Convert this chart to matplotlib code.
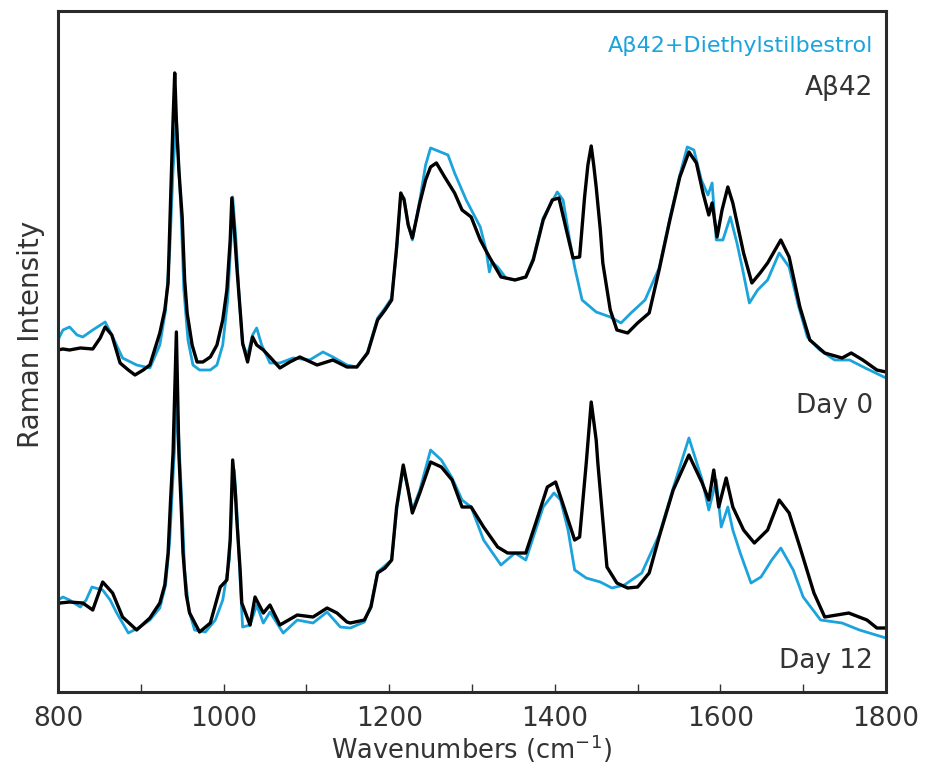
import numpy as np
import matplotlib.pyplot as plt

plt.rcParams['font.family'] = ['DejaVu Sans']
plt.rcParams['mathtext.fontset'] = 'dejavusans'

# Day 0, Abeta42 (black)
wn_d0_k = [800, 806, 814, 827, 842, 851, 857, 865, 875, 885, 893, 903, 911, 923, 929, 933, 936, 939,
           941, 943, 946, 950, 953, 956, 962, 968, 975, 984, 992, 999, 1004, 1008, 1010, 1013, 1016,
           1020, 1023, 1029, 1035, 1040, 1048, 1056, 1068, 1080, 1092, 1113, 1132, 1149, 1161, 1174,
           1186, 1195, 1203, 1209, 1214, 1218, 1223, 1228, 1237, 1244, 1250, 1257, 1267, 1279, 1288,
           1299, 1310, 1321, 1335, 1352, 1365, 1374, 1386, 1397, 1405, 1414, 1422, 1430, 1436, 1440,
           1444, 1447, 1450, 1455, 1458, 1467, 1475, 1488, 1500, 1514, 1526, 1539, 1551, 1562, 1571,
           1579, 1586, 1590, 1596, 1602, 1609, 1615, 1628, 1638, 1648, 1657, 1666, 1673, 1683, 1696,
           1708, 1726, 1747, 1758, 1772, 1789, 1800]
int_d0_k = [342, 343, 342, 344, 343, 354, 365, 357, 329, 322, 317, 322, 327, 359, 382, 409, 492, 572,
            619, 572, 522, 475, 412, 379, 347, 330, 330, 335, 347, 372, 402, 452, 494, 462, 425,
            382, 349, 330, 355, 347, 342, 335, 324, 330, 335, 327, 332, 325, 325, 339,
            372, 382, 392, 445, 499, 492, 467, 454, 489, 512, 525, 529, 515, 499, 482,
            475, 452, 435, 415, 412, 415, 432, 472, 492, 494, 462, 434, 435, 495, 527,
            546, 527, 505, 462, 429, 382, 362, 359, 369, 379, 422, 472, 515, 540, 529,
            499, 477, 489, 455, 482, 505, 489, 439, 409, 419, 429, 442, 452, 435, 385,
            352, 339, 334, 339, 332, 322, 320]

# Day 0, Abeta42 + Diethylstilbestrol (blue)
wn_d0_b = [800, 806, 814, 823, 830, 842, 857, 865, 878, 895, 911, 923, 930, 935, 939, 943, 945, 949,
           952, 957, 963, 971, 984, 992, 999, 1005, 1009, 1011, 1015, 1019, 1023, 1029, 1035, 1040,
           1046, 1056, 1068, 1084, 1104, 1120, 1132, 1149, 1161, 1174, 1186, 1195, 1203, 1209, 1214,
           1218, 1223, 1228, 1237, 1244, 1250, 1262, 1271, 1279, 1293, 1310, 1317, 1321, 1324, 1331,
           1341, 1352, 1365, 1374, 1386, 1403, 1410, 1418, 1424, 1433, 1450, 1467, 1480, 1492, 1509,
           1526, 1539, 1551, 1560, 1568, 1577, 1585, 1590, 1595, 1603, 1612, 1620, 1627, 1635, 1645,
           1657, 1671, 1683, 1694, 1705, 1720, 1738, 1756, 1775, 1800]
int_d0_b = [352, 362, 365, 357, 355, 362, 370, 357, 334, 327, 324, 347, 382, 442, 522, 572, 542, 472,
            402, 352, 327, 322, 322, 327, 347, 392, 452, 495, 452, 392, 347, 337, 357, 364,
            347, 329, 329, 334, 332, 340, 335, 327, 325, 340, 374, 384, 394, 442, 497,
            494, 467, 452, 492, 527, 544, 540, 537, 519, 492, 465, 442, 420, 430, 425,
            414, 412, 415, 434, 474, 500, 492, 452, 425, 392, 380, 375, 369, 379, 392,
            424, 474, 517, 545, 542, 512, 497, 509, 452, 452, 475, 449, 422, 389, 402,
            412, 439, 425, 387, 355, 342, 332, 332, 324, 314]

# Day 12, Abeta42 (black)
wn_d12_k = [800, 802, 814, 830, 842, 854, 866, 878, 895, 911, 923, 929, 933, 936, 939, 943, 946, 949,
            951, 955, 959, 971, 984, 996, 1004, 1008, 1011, 1014, 1016, 1020, 1022, 1032, 1038, 1048,
            1056, 1068, 1089, 1108, 1125, 1137, 1149, 1153, 1170, 1178, 1186, 1195, 1203, 1209, 1217,
            1223, 1228, 1237, 1250, 1263, 1276, 1288, 1299, 1314, 1331, 1343, 1365, 1377, 1391, 1401,
            1411, 1424, 1430, 1438, 1444, 1450, 1452, 1458, 1463, 1475, 1488, 1500, 1514, 1526, 1543,
            1562, 1578, 1586, 1592, 1598, 1607, 1615, 1628, 1641, 1657, 1671, 1683, 1696, 1713, 1726,
            1755, 1777, 1789, 1800]
int_d12_k = [87, 89, 90, 89, 82, 110, 99, 75, 62, 74, 89, 107, 139, 192, 239, 360, 239, 182,
             139, 97, 79, 60, 69, 105, 112, 152, 232, 202, 172, 122, 89, 67, 95, 79,
             87, 67, 77, 75, 84, 79, 70, 69, 72, 85, 119, 124, 132, 185, 227,
             202, 179, 199, 230, 225, 212, 185, 185, 165, 145, 139, 139, 169, 205, 210,
             185, 152, 155, 229, 290, 252, 229, 172, 125, 109, 104, 105, 119, 155, 202,
             237, 209, 192, 222, 185, 214, 185, 162, 149, 162, 192, 179, 145, 99, 75,
             79, 72, 64, 64]

# Day 12, Abeta42 + Diethylstilbestrol (blue)
wn_d12_b = [800, 806, 814, 827, 834, 841, 854, 863, 871, 885, 899, 911, 923, 930, 935, 940, 944, 946,
            950, 953, 958, 965, 978, 990, 999, 1007, 1010, 1013, 1016, 1020, 1023, 1032, 1040, 1048,
            1056, 1072, 1089, 1108, 1125, 1141, 1153, 1170, 1178, 1186, 1203, 1209, 1217, 1223, 1228,
            1237, 1250, 1263, 1276, 1288, 1299, 1314, 1335, 1352, 1365, 1386, 1399, 1407, 1416, 1424,
            1438, 1455, 1469, 1484, 1505, 1526, 1543, 1562, 1578, 1586, 1595, 1601, 1609, 1615, 1624,
            1637, 1649, 1662, 1673, 1688, 1700, 1721, 1747, 1768, 1800]
int_d12_b = [92, 95, 92, 85, 92, 105, 102, 92, 79, 59, 65, 72, 84, 107, 152, 232, 287, 252,
             182, 122, 82, 62, 60, 72, 92, 132, 192, 222, 182, 112, 65, 67, 87, 69,
             80, 59, 72, 69, 80, 65, 64, 70, 87, 120, 132, 182, 224, 202, 182,
             202, 242, 232, 214, 192, 185, 152, 127, 139, 132, 185, 199, 192, 162, 122,
             114, 110, 104, 107, 119, 157, 204, 254, 212, 182, 212, 165, 185, 162, 139,
             109, 115, 132, 144, 122, 95, 72, 69, 62, 54]

blue = '#1ba3dc'
txt = '#333333'

fig = plt.figure(figsize=(9.26, 7.72), dpi=100)
ax = fig.add_axes([0.0626, 0.1036, 0.8942, 0.8822])

ax.plot(wn_d0_b, int_d0_b, color=blue, lw=2.0)
ax.plot(wn_d12_b, int_d12_b, color=blue, lw=2.0)
ax.plot(wn_d0_k, int_d0_k, color='black', lw=2.4)
ax.plot(wn_d12_k, int_d12_k, color='black', lw=2.4)

ax.set_xlim(800, 1800)
ax.set_ylim(0, 681)
ax.set_xticks(np.arange(800, 1801, 200))
ax.set_xticks(np.arange(900, 1800, 200), minor=True)
ax.set_yticks([])
ax.tick_params(axis='x', which='both', direction='in', length=6, width=1, color=txt,
               labelsize=19, labelcolor=txt, pad=10)
for s in ax.spines.values():
    s.set_linewidth(2.2)
    s.set_color('#2a2a2a')

ax.set_xlabel('Wavenumbers (cm$^{-1}$)', fontsize=18.5, color=txt)
ax.xaxis.set_label_coords(0.5, -0.06)
ax.set_ylabel('Raman Intensity', fontsize=20, color=txt)
ax.yaxis.set_label_coords(-0.016, 0.525)

ax.text(0.984, 0.940, 'Aβ42+Diethylstilbestrol', transform=ax.transAxes, ha='right', va='baseline',
        fontsize=16, color=blue)
ax.text(0.984, 0.877, 'Aβ42', transform=ax.transAxes, ha='right', va='baseline',
        fontsize=19, color=txt)
ax.text(0.984, 0.410, 'Day 0', transform=ax.transAxes, ha='right', va='baseline',
        fontsize=19, color=txt)
ax.text(0.984, 0.035, 'Day 12', transform=ax.transAxes, ha='right', va='baseline',
        fontsize=19, color=txt)

fig.savefig('out.png', dpi=100)
